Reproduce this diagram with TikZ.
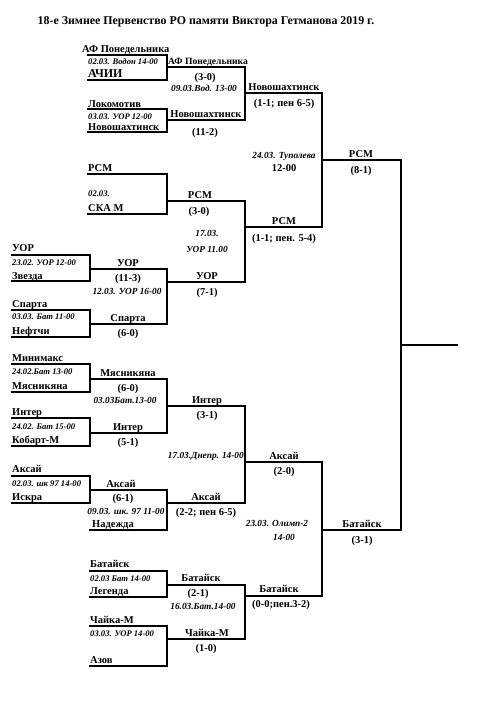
\documentclass[tikz,border=0pt]{standalone}
\usepackage{fontspec}
\setmainfont{Liberation Serif}
\begin{document}
\begin{tikzpicture}[x=1pt,y=-1pt,
  br/.style={line width=1.7pt,line cap=rect},
  nm/.style={font=\fontsize{10.5}{12}\selectfont\bfseries,inner sep=0pt,anchor=base west},
  nmb/.style={font=\fontsize{12}{13}\selectfont\bfseries,inner sep=0pt,anchor=base west},
  dt/.style={font=\fontsize{8.6}{10}\selectfont\bfseries\itshape,inner sep=0pt,anchor=base west},
  cn/.style={font=\fontsize{10.5}{12}\selectfont\bfseries,inner sep=0pt,anchor=base},
  cd/.style={font=\fontsize{9.3}{10}\selectfont\bfseries\itshape,inner sep=0pt,anchor=base},
  ttl/.style={font=\fontsize{11.9}{13}\selectfont\bfseries,inner sep=0pt,anchor=base}]
\useasboundingbox (0,0) rectangle (500,707);
\fill[white] (0,0) rectangle (500,707);
\newcommand\brk[7]{%
  \coordinate (#1tl) at (#2,#4); \coordinate (#1tr) at (#3,#4);
  \coordinate (#1br) at (#3,#5); \coordinate (#1bl) at (#2,#5);
  \coordinate (#1o) at (#3,#6); \coordinate (#1oe) at (#7,#6);
  \draw[br] (#1tl) -- (#1tr) -- (#1br) -- (#1bl);
  \draw[br] (#1o) -- (#1oe);}
\newcommand\jn[6]{% name, top coord, bottom coord, x, yout, xend
  \coordinate (#1o) at (#4,#5); \coordinate (#1oe) at (#6,#5);
  \draw[br] (#2) -- (#3);
  \draw[br] (#1o) -- (#1oe);}
% title
\node[ttl] (title) at (206,24) {18-е Зимнее Первенство РО памяти Виктора Гетманова 2019 г.};
% ---------- brackets
\brk{b1}{88}{167}{55}{80}{67}{245}
\brk{b2}{88}{167}{109}{132}{120}{245}
\jn{b3}{b1oe}{b2oe}{245}{93}{322}
\brk{b4}{88}{167}{174}{214}{201}{245}
\brk{b5}{12}{90}{255}{281}{269}{167}
\brk{b6}{12}{90}{310}{337}{324}{167}
\jn{b7}{b5oe}{b6oe}{167}{282}{245}
\jn{b8}{b4oe}{b7oe}{245}{227}{322}
\jn{b9}{b3oe}{b8oe}{322}{160}{401}
\brk{b10}{12}{90}{364}{392}{379}{167}
\brk{b11}{12}{90}{418}{446}{433}{167}
\jn{b12}{b10oe}{b11oe}{167}{406}{245}
\brk{b13}{12}{90}{476}{503}{490}{167}
\coordinate (nd1) at (90,530); \coordinate (nd2) at (167,530);
\draw[br] (nd1) -- (nd2);
\jn{b14}{b13oe}{nd2}{167}{503}{245}
\jn{b15}{b12oe}{b14oe}{245}{462}{322}
\brk{b16}{90}{167}{571}{597}{585}{245}
\brk{b17}{90}{167}{626}{666}{639}{245}
\jn{b18}{b16oe}{b17oe}{245}{596}{322}
\jn{b19}{b15oe}{b18oe}{322}{530}{401}
\jn{b20}{b9oe}{b19oe}{401}{345}{457}
% ---------- labels: top
\node[nm] (n1) at (82,52) {АФ Понедельника};
\node[dt] (d1) at (88,64) {02.03. Водон 14-00};
\node[nmb] (n2) at (88,77) {АЧИИ};
\node[cn,font=\fontsize{9.6}{11}\selectfont\bfseries] (w1) at (208,64) {АФ Понедельника};
\node[cn] (s1) at (205,80) {(3-0)};
\node[cd] (c1) at (204,91) {09.03.Вод. 13-00};
\node[nm] (n3) at (88,107) {Локомотив};
\node[dt] (d2) at (88,119) {03.03. УОР 12-00};
\node[nm] (n4) at (88,130) {Новошахтинск};
\node[cn] (w2) at (206,117) {Новошахтинск};
\node[cn] (s2) at (205,135) {(11-2)};
\node[cn] (w3) at (284,90) {Новошахтинск};
\node[cn] (s3) at (284,106) {(1-1; пен 6-5)};
\node[cd] (c2) at (284,158) {24.03. Туполева};
\node[cn] (c3) at (284,171) {12-00};
\node[cn] (w4) at (361,157) {РСМ};
\node[cn] (s4) at (361,173) {(8-1)};
% PCM
\node[nm] (n5) at (88,171) {РСМ};
\node[dt] (d3) at (88,196) {02.03.};
\node[nm] (n6) at (88,211) {СКА М};
\node[cn] (w5) at (200,198) {РСМ};
\node[cn] (s5) at (199,214) {(3-0)};
\node[cd] (c4) at (207,236) {17.03.};
\node[cd] (c5) at (207,252) {УОР 11.00};
\node[cn] (w6) at (284,224) {РСМ};
\node[cn] (s6) at (284,241) {(1-1; пен. 5-4)};
% UOR
\node[nm] (n7) at (12,251) {УОР};
\node[dt] (d4) at (12,265) {23.02. УОР 12-00};
\node[nm] (n8) at (12,279) {Звезда};
\node[cn] (w7) at (128,266) {УОР};
\node[cn] (s7) at (128,281) {(11-3)};
\node[cd] (c6) at (127,294) {12.03. УОР 16-00};
\node[nm] (n9) at (12,307) {Спарта};
\node[dt] (d5) at (12,319) {03.03. Бат 11-00};
\node[nm] (n10) at (12,334) {Нефтчи};
\node[cn] (w8) at (128,321) {Спарта};
\node[cn] (s8) at (128,336) {(6-0)};
\node[cn] (w9) at (207,279) {УОР};
\node[cn] (s9) at (207,295) {(7-1)};
% bottom
\node[nm] (n11) at (12,361) {Минимакс};
\node[dt] (d6) at (12,374) {24.02.Бат 13-00};
\node[nm] (n12) at (12,389) {Мясникяна};
\node[cn] (w10) at (128,376) {Мясникяна};
\node[cn] (s10) at (128,391) {(6-0)};
\node[cd] (c7) at (125,403) {03.03Бат.13-00};
\node[nm] (n13) at (12,415) {Интер};
\node[dt] (d7) at (12,429) {24.02. Бат 15-00};
\node[nm] (n14) at (12,443) {Кобарт-М};
\node[cn] (w11) at (128,430) {Интер};
\node[cn] (s11) at (128,445) {(5-1)};
\node[cn] (w12) at (207,403) {Интер};
\node[cn] (s12) at (207,418) {(3-1)};
\node[cd,anchor=base east] (c8) at (244,458) {17.03.Днепр. 14-00};
\node[cn] (w13) at (284,459) {Аксай};
\node[cn] (s13) at (284,474) {(2-0)};
\node[nm] (n15) at (12,472) {Аксай};
\node[dt] (d8) at (12,486) {02.03. шк 97 14-00};
\node[nm] (n16) at (12,500) {Искра};
\node[cn] (w14) at (121,487) {Аксай};
\node[cn] (s14) at (123,501) {(6-1)};
\node[cd] (c9) at (126,514) {09.03. шк. 97 11-00};
\node[nm] (n17) at (92,527) {Надежда};
\node[cn] (w15) at (206,500) {Аксай};
\node[cn] (s15) at (206,515) {(2-2; пен 6-5)};
\node[cd] (c10) at (277,526) {23.03. Олимп-2};
\node[cd] (c11) at (284,540) {14-00};
\node[cn] (w16) at (362,527) {Батайск};
\node[cn] (s16) at (362,543) {(3-1)};
\node[nm] (n18) at (90,567) {Батайск};
\node[dt] (d9) at (90,581) {02.03 Бат 14-00};
\node[nm] (n19) at (90,594) {Легенда};
\node[cn] (w17) at (201,581) {Батайск};
\node[cn] (s17) at (198,596) {(2-1)};
\node[cd] (c12) at (203,609) {16.03.Бат.14-00};
\node[nm] (n20) at (90,623) {Чайка-М};
\node[dt] (d10) at (90,636) {03.03. УОР 14-00};
\node[nm] (n21) at (90,663) {Азов};
\node[cn] (w18) at (207,636) {Чайка-М};
\node[cn] (s18) at (206,651) {(1-0)};
\node[cn] (w19) at (279,592) {Батайск};
\node[cn] (s19) at (281,607) {(0-0;пен.3-2)};
\end{tikzpicture}
\end{document}
